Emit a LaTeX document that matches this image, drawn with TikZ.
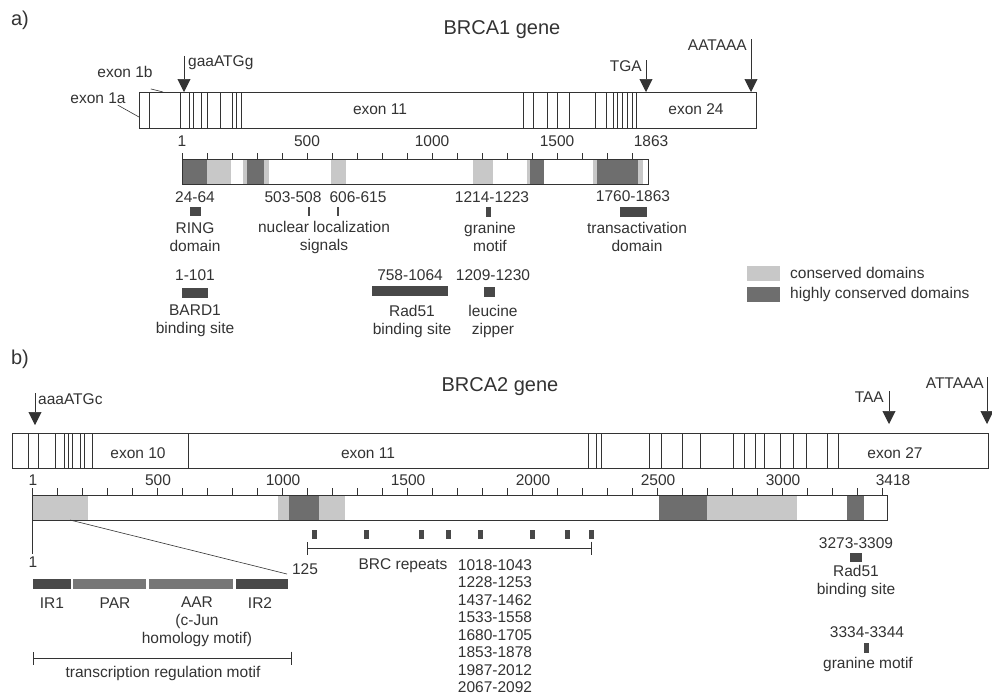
\documentclass[tikz,border=0pt]{standalone}
\usepackage{fontspec}
\setmainfont{Liberation Sans}
\usepackage{xcolor}
\usetikzlibrary{arrows.meta}
\definecolor{ink}{HTML}{333333}
\definecolor{hicons}{HTML}{6E6E6E}
\definecolor{lowcons}{HTML}{C8C8C8}
\definecolor{sitegrey}{HTML}{484848}
\definecolor{midgrey}{HTML}{777777}

\begin{document}
\begin{tikzpicture}[
  x=1pt, y=-1pt,
  lbl/.style={font=\fontsize{15.5}{18}\selectfont, text=ink, inner sep=0pt, align=center},
  ttl/.style={font=\fontsize{20}{24}\selectfont, text=ink, inner sep=0pt},
  genebar/.style={draw=ink, line width=0.9pt},
  exline/.style={draw=ink, line width=0.6pt},
  hc/.style={fill=hicons},
  cd/.style={fill=lowcons},
  site/.style={fill=sitegrey},
  pin/.style={draw=ink, line width=0.6pt, -{Triangle[length=13pt, width=13pt]}},
  brk/.style={draw=ink, line width=0.7pt, {Bar[width=13pt]}-{Bar[width=13pt]}}
]
\useasboundingbox[fill=white] (0,0) rectangle (992,696);

% a) BRCA1
\node[ttl] (parta) at (20,20) {a)};
\node[ttl] (title1) at (502,30) {BRCA1 gene};
\draw[genebar, fill=white] (139,92) rectangle (756,128);
\foreach \x in {149,180,189,193,201,207,220,232,236,241,523,533,547,557,569,595,606,613,617,622,627,632,636}
  \draw[exline] (\x,92) -- (\x,128);
\node[lbl] (ex11a) at (380,109) {exon 11};
\node[lbl] (ex24) at (696,109) {exon 24};
\node[lbl] (ex1a) at (98,98) {exon 1a};
\node[lbl] (ex1b) at (125,72) {exon 1b};
\coordinate (ex1afoot) at (139,117);
\coordinate (ex1bfoot) at (163,92);
\draw[exline] ([xshift=-8pt,yshift=-1.5pt]ex1a.south east) -- (ex1afoot);
\draw[exline] ([xshift=-2pt,yshift=-11pt]ex1b.south east) -- (ex1bfoot);

\node[lbl, anchor=west] (atg1) at (188,63) {gaaATGg};
\node[lbl, anchor=east] (tga) at (642,66) {TGA};
\node[lbl, anchor=east] (aat1) at (747,45) {AATAAA};
\coordinate (atg1tip) at (184,92);
\coordinate (tgatip) at (646,92);
\coordinate (aat1tip) at (751,92);
\draw[pin] (atg1tip |- atg1.north) -- (atg1tip);
\draw[pin] (tgatip |- tga.north) -- (tgatip);
\draw[pin] (aat1tip |- aat1.north) -- (aat1tip);

\foreach \n/\x in {1/182,500/307,1000/432,1500/557,1863/651}
  \node[lbl] (aa1-\n) at (\x,141) {\n};
\foreach \k in {0,...,18}
  \draw[exline] ({182+25*\k},153) -- ({182+25*\k},159);
\fill[white] (182,159) rectangle (648,184);
\foreach \a/\b in {207/231,243/247,264/269,331/346,473/493,527/530,593/597,638/643}
  \fill[cd] (\a,159) rectangle (\b,184);
\foreach \a/\b in {182/207,247/264,530/544,597/638}
  \fill[hc] (\a,159) rectangle (\b,184);
\draw[genebar] (182,159) rectangle (648,184);

\node[lbl] (ring) at (195,197) {24-64};
\fill[site] (190,207) rectangle (201,216);
\node[lbl] (ringtxt) at (195,237) {RING\\domain};
\node[lbl] (nls1) at (293,197) {503-508};
\node[lbl] (nls2) at (358,197) {606-615};
\fill[site] (308,207) rectangle (310,216);
\fill[site] (337,207) rectangle (339,216);
\node[lbl] (nlstxt) at (324,237) {nuclear localization\\signals};
\node[lbl] (gran1) at (492,197) {1214-1223};
\fill[site] (486,207) rectangle (491,217);
\node[lbl] (gran1txt) at (490,237) {granine\\motif};
\node[lbl] (tad) at (633,196) {1760-1863};
\fill[site] (620,207) rectangle (647,217);
\node[lbl] (tadtxt) at (637,237) {transactivation\\domain};

\node[lbl] (bard) at (195,275) {1-101};
\fill[site] (182,288) rectangle (208,298);
\node[lbl] (bardtxt) at (195,321) {BARD1\\binding site};
\node[lbl] (rad1) at (410,275) {758-1064};
\fill[site] (372,286) rectangle (448,296);
\node[lbl] (rad1txt) at (412,321) {Rad51\\binding site};
\node[lbl] (leu) at (493,275) {1209-1230};
\fill[site] (484,287) rectangle (495,297);
\node[lbl] (leutxt) at (493,321) {leucine\\zipper};

\fill[cd] (747,266) rectangle (780,281);
\fill[hc] (747,287) rectangle (780,302);
\node[lbl, anchor=west] (leg1) at (790,273) {conserved domains};
\node[lbl, anchor=west] (leg2) at (790,294) {highly conserved domains};

% b) BRCA2
\node[ttl] (partb) at (20,359) {b)};
\node[ttl] (title2) at (500,387) {BRCA2 gene};
\draw[genebar, fill=white] (12,433) rectangle (988,468);
\foreach \x in {28,38,55,64,68,72,80,84,92,188,588,596,601,649,661,682,700,733,744,755,764,780,793,806,827,838}
  \draw[exline] (\x,433) -- (\x,468);
\node[lbl] (ex10) at (138,453) {exon 10};
\node[lbl] (ex11b) at (368,453) {exon 11};
\node[lbl] (ex27) at (895,453) {exon 27};

\node[lbl, anchor=west] (atg2) at (38,399) {aaaATGc};
\node[lbl, anchor=east] (taa) at (884,397) {TAA};
\node[lbl, anchor=east] (aat2) at (984,383) {ATTAAA};
\coordinate (atg2tip) at (35,425);
\coordinate (taatip) at (889,424);
\coordinate (aat2tip) at (987,424);
\draw[pin] (atg2tip |- atg2.north) -- (atg2tip);
\draw[pin] (taatip |- taa.north) -- (taatip);
\draw[pin] (aat2tip |- aat2.north) -- (aat2tip);

\foreach \n/\x in {1/33,500/158,1000/283,1500/408,2000/533,2500/658,3000/783,3418/893}
  \node[lbl] (aa2-\n) at (\x,480) {\n};
\foreach \k in {0,...,34}
  \draw[exline] ({32+25*\k},488) -- ({32+25*\k},495);
\fill[white] (32,495) rectangle (887,520);
\foreach \a/\b in {32/88,278/289,319/345,707/797}
  \fill[cd] (\a,495) rectangle (\b,520);
\foreach \a/\b in {289/319,659/707,847/864}
  \fill[hc] (\a,495) rectangle (\b,520);
\draw[genebar] (32,495) rectangle (887,520);

% enlarged N-terminus
\node[lbl] (zoomone) at (33,562) {1};
\node[lbl] (zoomend) at (305,569) {125};
\coordinate (zoomL) at (32,520);
\coordinate (zoomR) at (70,520);
\coordinate (zoomRfoot) at (287,574);
\draw[exline] (zoomL) -- ([yshift=2pt]zoomL |- zoomone.north);
\draw[exline] (zoomR) -- (zoomRfoot);
\fill[sitegrey] (33,579) rectangle (71,589);
\fill[midgrey] (73,579) rectangle (146,589);
\fill[midgrey] (149,579) rectangle (233,589);
\fill[sitegrey] (236,579) rectangle (288,589);
\node[lbl] (ir1) at (52,603) {IR1};
\node[lbl] (par) at (115,603) {PAR};
\node[lbl, anchor=north] (aar) at (197,597) {AAR\\(c-Jun\\homology motif)};
\node[lbl] (ir2) at (260,603) {IR2};
\coordinate (trL) at (33,658);
\coordinate (trR) at (292,658);
\draw[brk] (trL) -- (trR);
\node[lbl] (trtxt) at (163,673) {transcription regulation motif};

% BRC repeats
\foreach \x in {312,364,419,446,478,530,565,589}
  \fill[site] (\x,530) rectangle ({\x+5},539);
\coordinate (brcL) at (307,548);
\coordinate (brcR) at (592,548);
\draw[brk] (brcL) -- (brcR);
\node[lbl] (brctxt) at (403,566) {BRC repeats};
\node[lbl, anchor=north, font=\fontsize{15.5}{17.5}\selectfont] (brcnum) at (495,559) {1018-1043\\1228-1253\\1437-1462\\1533-1558\\1680-1705\\1853-1878\\1987-2012\\2067-2092};

\node[lbl] (rad2) at (856,543) {3273-3309};
\fill[site] (850,553) rectangle (862,562);
\node[lbl] (rad2txt) at (856,581) {Rad51\\binding site};
\node[lbl] (gran2) at (867,632) {3334-3344};
\fill[site] (864,643) rectangle (869,653);
\node[lbl] (gran2txt) at (868,664) {granine motif};
\end{tikzpicture}
\end{document}
